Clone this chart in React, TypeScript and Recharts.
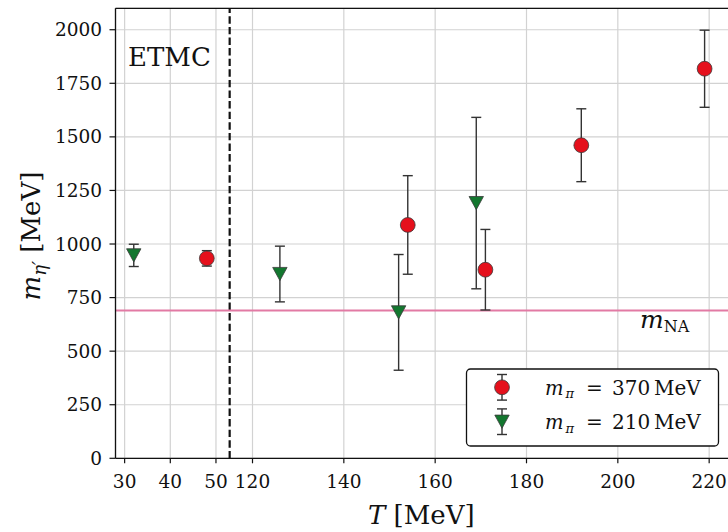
import React from "react";
import {
  ComposedChart,
  Scatter,
  ErrorBar,
  XAxis,
  YAxis,
  CartesianGrid,
  ReferenceLine,
} from "recharts";

// ---- data ----
// m_pi = 370 MeV series
const tempRed = [48, 154, 171, 192, 219];
const massRed = [933, 1089, 880, 1461, 1818];
const errRed = [36, 230, 188, 170, 180];
// m_pi = 210 MeV series
const tempGreen = [32, 126, 152, 169];
const massGreen = [947, 860, 681, 1191];
const errGreen = [52, 130, 270, 400];
// axis ticks (temperatures shown on the broken axis)
const xTickTemps = [30, 40, 50, 120, 140, 160, 180, 200, 220];
const yTicks = [0, 250, 500, 750, 1000, 1250, 1500, 1750, 2000];
const mNA = 690;

// broken x axis: the low-T (ETMC) segment is shifted right
const SHIFT = 62;
const BREAK = 115;
const toAxis = (t: number) => (t < 100 ? t + SHIFT : t);
const fromAxis = (v: number) => (v < BREAK ? v - SHIFT : v);

const redData = tempRed.map((t, i) => ({ x: toAxis(t), y: massRed[i], err: errRed[i] }));
const greenData = tempGreen.map((t, i) => ({ x: toAxis(t), y: massGreen[i], err: errGreen[i] }));
const xTicks = xTickTemps.map(toAxis);

const RED = "#e5101c";
const GREEN = "#13772f";
const PINK = "#e27aa4";
const FONT = "'DejaVu Serif', serif";

const Circle = (p: any) => {
  const { cx, cy } = p;
  if (cx == null || cy == null) return null;
  return <circle cx={cx} cy={cy} r={7.4} fill={RED} stroke="#3a3a3a" strokeWidth={0.8} />;
};
const TriDown = (p: any) => {
  const { cx, cy } = p;
  if (cx == null || cy == null) return null;
  const w = 7.2, h = 6.6;
  return (
    <polygon
      points={`${cx - w},${cy - h} ${cx + w},${cy - h} ${cx},${cy + h}`}
      fill={GREEN}
      stroke="#3a3a3a"
      strokeWidth={0.8}
    />
  );
};

const LegendRow = ({ cy, label, marker }: { cy: number; label: string; marker: React.ReactNode }) => (
  <g>
    <g stroke="#333" strokeWidth={1.4}>
      <line x1={502} y1={cy - 12.8} x2={502} y2={cy + 12.8} />
      <line x1={497} y1={cy - 12.8} x2={507} y2={cy - 12.8} />
      <line x1={497} y1={cy + 12.8} x2={507} y2={cy + 12.8} />
    </g>
    {marker}
    <text x={545} y={cy + 7.5} fontFamily={FONT} fontSize={19.5} fontStyle="italic" fill="#111">m</text>
    <text x={565.5} y={cy + 11} fontFamily={FONT} fontSize={13} fontStyle="italic" fill="#111">π</text>
    <text x={586} y={cy + 7.5} fontFamily={FONT} fontSize={20} fill="#111">=</text>
    <text x={612} y={cy + 7.5} fontFamily={FONT} fontSize={20} fill="#111">{label}</text>
    <text x={654} y={cy + 7.5} fontFamily={FONT} fontSize={20} fill="#111">MeV</text>
  </g>
);

const Overlay = () => (
  <svg
    width={728}
    height={532}
    style={{ position: "absolute", left: 0, top: 0, pointerEvents: "none" }}
  >
    {/* ETMC */}
    <text x={128} y={66} fontFamily={FONT} fontSize={26} fill="#111">
      ETMC
    </text>
    {/* m_NA label */}
    <text x={640} y={328} fontFamily={FONT} fill="#111">
      <tspan fontSize={25} fontStyle="italic">m</tspan>
      <tspan fontSize={16} dy={4}>NA</tspan>
    </text>
    {/* x label */}
    <text x={368} y={524} fontFamily={FONT} fontSize={26} fill="#111">
      <tspan fontStyle="italic">T</tspan>
      <tspan> [MeV]</tspan>
    </text>
    {/* y label */}
    <text
      transform="translate(40,236) rotate(-90)"
      textAnchor="middle"
      fontFamily={FONT}
      fontSize={26}
      fill="#111"
    >
      <tspan fontStyle="italic">m</tspan>
      <tspan fontSize={18} fontStyle="italic" dy={6}>η′</tspan>
      <tspan dy={-6}> [MeV]</tspan>
    </text>
    {/* legend box */}
    <rect x={466.5} y={369} width={252} height={77} rx={4} ry={4} fill="#fff" stroke="#111" strokeWidth={1.3} />
    <LegendRow
      cy={387.3}
      label="370"
      marker={<circle cx={502} cy={387.3} r={7.4} fill={RED} stroke="#3a3a3a" strokeWidth={0.8} />}
    />
    <LegendRow
      cy={421.7}
      label="210"
      marker={
        <polygon
          points={`${502 - 7.2},${421.7 - 6.6} ${502 + 7.2},${421.7 - 6.6} ${502},${421.7 + 6.6}`}
          fill={GREEN}
          stroke="#3a3a3a"
          strokeWidth={0.8}
        />
      }
    />
  </svg>
);

export default function App() {
  const tickStyle = { fontFamily: FONT, fontSize: 18.5, fill: "#111" };
  return (
    <div
      style={{
        position: "absolute",
        left: 0,
        top: 0,
        width: 728,
        height: 532,
        overflow: "hidden",
        background: "#fff",
      }}
    >
      <ComposedChart
        width={740}
        height={532}
        margin={{ top: 8.3, right: 8, bottom: 0, left: 0 }}
      >
        <CartesianGrid stroke="#d2d2d2" strokeWidth={1.2} />
        <XAxis
          type="number"
          dataKey="x"
          domain={[90, 225]}
          ticks={xTicks}
          tickFormatter={(v: number) => String(fromAxis(v))}
          allowDataOverflow
          height={73.7}
          tick={tickStyle}
          tickSize={5}
          tickMargin={11.5}
          axisLine={{ stroke: "#111", strokeWidth: 1.3 }}
          tickLine={{ stroke: "#111", strokeWidth: 1.2 }}
          interval={0}
        />
        <YAxis
          type="number"
          dataKey="y"
          domain={[0, 2100]}
          ticks={yTicks}
          allowDataOverflow
          width={115.5}
          tick={tickStyle}
          tickSize={6}
          tickMargin={7.5}
          axisLine={{ stroke: "#111", strokeWidth: 1.3 }}
          tickLine={{ stroke: "#111", strokeWidth: 1.2 }}
          interval={0}
        />
        <ReferenceLine y={2100} stroke="#111" strokeWidth={1.3} />
        <ReferenceLine x={BREAK} stroke="#111" strokeWidth={2.2} strokeDasharray="7.4 3.2" />
        <ReferenceLine y={mNA} stroke={PINK} strokeWidth={2} />
        <Scatter data={greenData} shape={TriDown} isAnimationActive={false}>
          <ErrorBar dataKey="err" direction="y" width={5} stroke="#333" strokeWidth={1.4} isAnimationActive={false} />
        </Scatter>
        <Scatter data={redData} shape={Circle} isAnimationActive={false}>
          <ErrorBar dataKey="err" direction="y" width={5} stroke="#333" strokeWidth={1.4} isAnimationActive={false} />
        </Scatter>
      </ComposedChart>
      <Overlay />
    </div>
  );
}
